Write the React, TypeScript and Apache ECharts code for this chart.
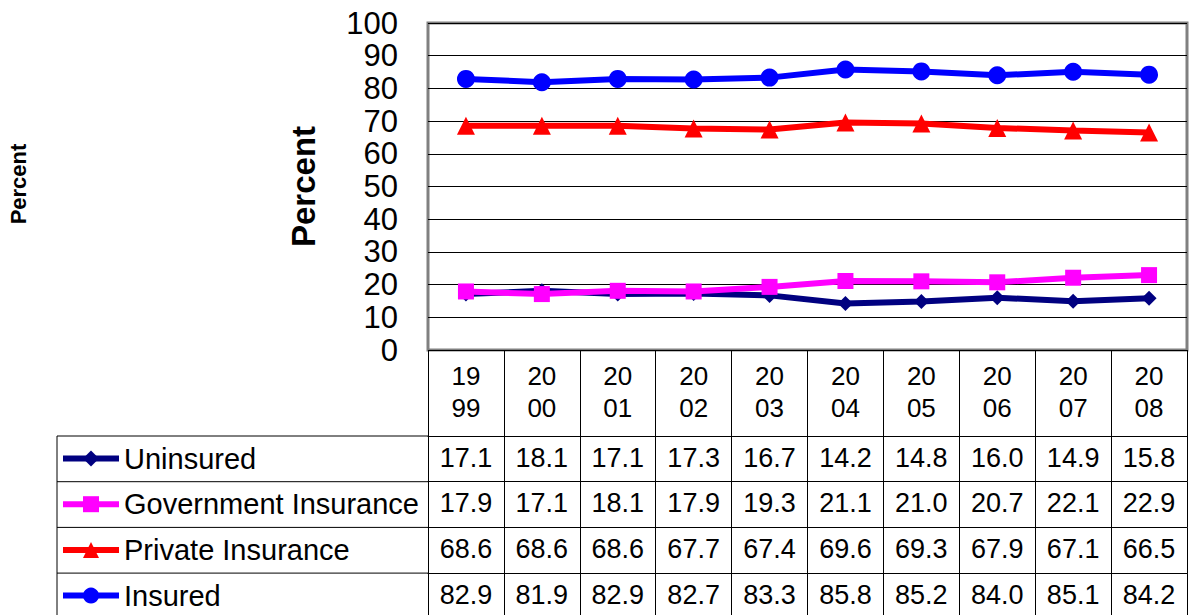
import React, { useEffect, useRef } from "react";
import * as echarts from "echarts";

const years = ["1999", "2000", "2001", "2002", "2003", "2004", "2005", "2006", "2007", "2008"];
const seriesNames = ["Uninsured", "Government Insurance", "Private Insurance", "Insured"];
const uninsured = [17.1, 18.1, 17.1, 17.3, 16.7, 14.2, 14.8, 16.0, 14.9, 15.8];
const government = [17.9, 17.1, 18.1, 17.9, 19.3, 21.1, 21.0, 20.7, 22.1, 22.9];
const privateIns = [68.6, 68.6, 68.6, 67.7, 67.4, 69.6, 69.3, 67.9, 67.1, 66.5];
const insured = [82.9, 81.9, 82.9, 82.7, 83.3, 85.8, 85.2, 84.0, 85.1, 84.2];
const seriesColors = ["#000080", "#FF00FF", "#FF0000", "#0000FF"];
const seriesSymbols = ["diamond", "rect", "triangle", "circle"];
const symbolSizes = [15, 16, 18, 18];
const yTicks = { min: 0, max: 100, interval: 10 };

const FONT = "'Liberation Sans', Arial, sans-serif";

export default function App() {
  const ref = useRef<HTMLDivElement>(null);
  useEffect(() => {
    if (!ref.current) return;
    const chart = echarts.init(ref.current, null, { renderer: "svg" });
    const allData = [uninsured, government, privateIns, insured];
    const gridLeft = 428, gridTop = 23, gridW = 759, gridH = 327;
    const headerH = 86, rowH = 45.7;
    const tableTop = gridTop + gridH + headerH;
    const valueAxes = allData.map((arr, i) => ({
      type: "category",
      gridIndex: 0,
      position: "bottom",
      offset: headerH + rowH * i,
      data: years,
      axisLine: { show: true, lineStyle: { color: "#000", width: 1 } },
      axisTick: { show: true, length: rowH, lineStyle: { color: "#000", width: 1 } },
      axisLabel: {
        fontSize: 27, lineHeight: 27, color: "#000", fontFamily: FONT, margin: 8,
        formatter: (_v: string, idx: number) => arr[idx].toFixed(1),
      },
      splitLine: { show: false },
    }));
    const rowLines = [0, 1, 2, 3].map((i) => ({
      type: "line",
      shape: { x1: 57, y1: tableTop + rowH * i, x2: gridLeft, y2: tableTop + rowH * i },
      style: { stroke: "#000", lineWidth: 1 },
    }));
    const legendTextH = 29;
    chart.setOption({
      animation: false,
      backgroundColor: "#fff",
      grid: {
        left: gridLeft, top: gridTop, width: gridW, height: gridH,
        show: true, borderColor: "#808080", borderWidth: 3, backgroundColor: "#fff",
        containLabel: false,
      },
      legend: {
        orient: "vertical", left: 60, top: tableTop + 8, padding: 0,
        itemWidth: 56, itemHeight: 20, itemGap: rowH - legendTextH,
        lineStyle: { width: 6 },
        textStyle: { fontSize: 29, lineHeight: legendTextH, color: "#000", fontFamily: FONT },
        data: seriesNames,
      },
      xAxis: [
        {
          type: "category",
          data: years,
          boundaryGap: true,
          axisLine: { show: false },
          axisTick: { show: true, length: headerH, lineStyle: { color: "#000", width: 1 } },
          axisLabel: {
            fontSize: 26, lineHeight: 32, color: "#000", fontFamily: FONT, margin: 10,
            formatter: (v: string) => v.slice(0, 2) + "\n" + v.slice(2),
          },
        },
        ...valueAxes,
      ],
      yAxis: {
        type: "value",
        min: yTicks.min, max: yTicks.max, interval: yTicks.interval,
        name: "Percent",
        nameLocation: "middle",
        nameGap: 108,
        nameTextStyle: { fontSize: 33, fontWeight: "bold", color: "#000", fontFamily: FONT },
        axisLine: { show: false },
        axisTick: { show: false },
        axisLabel: { fontSize: 31, color: "#000", fontFamily: FONT, margin: 30 },
        splitLine: { show: true, lineStyle: { color: "#000", width: 1 } },
      },
      series: allData.map((arr, i) => ({
        name: seriesNames[i],
        type: "line",
        data: arr,
        xAxisIndex: 0,
        symbol: seriesSymbols[i],
        symbolSize: symbolSizes[i],
        lineStyle: { color: seriesColors[i], width: 6 },
        itemStyle: { color: seriesColors[i] },
        emphasis: { disabled: true },
      })),
      graphic: [
        ...rowLines,
        {
          type: "line",
          shape: { x1: 57, y1: tableTop, x2: 57, y2: 615 },
          style: { stroke: "#000", lineWidth: 1 },
        },
        {
          type: "text",
          x: 18, y: 184, rotation: Math.PI / 2,
          style: {
            text: "Percent", font: `bold 22px ${FONT}`, fill: "#000",
            textAlign: "center", textVerticalAlign: "middle",
          },
        },
      ],
    });
    return () => chart.dispose();
  }, []);
  return (
    <div
      ref={ref}
      style={{ position: "absolute", left: 0, top: 0, width: 1196, height: 615 }}
    />
  );
}
